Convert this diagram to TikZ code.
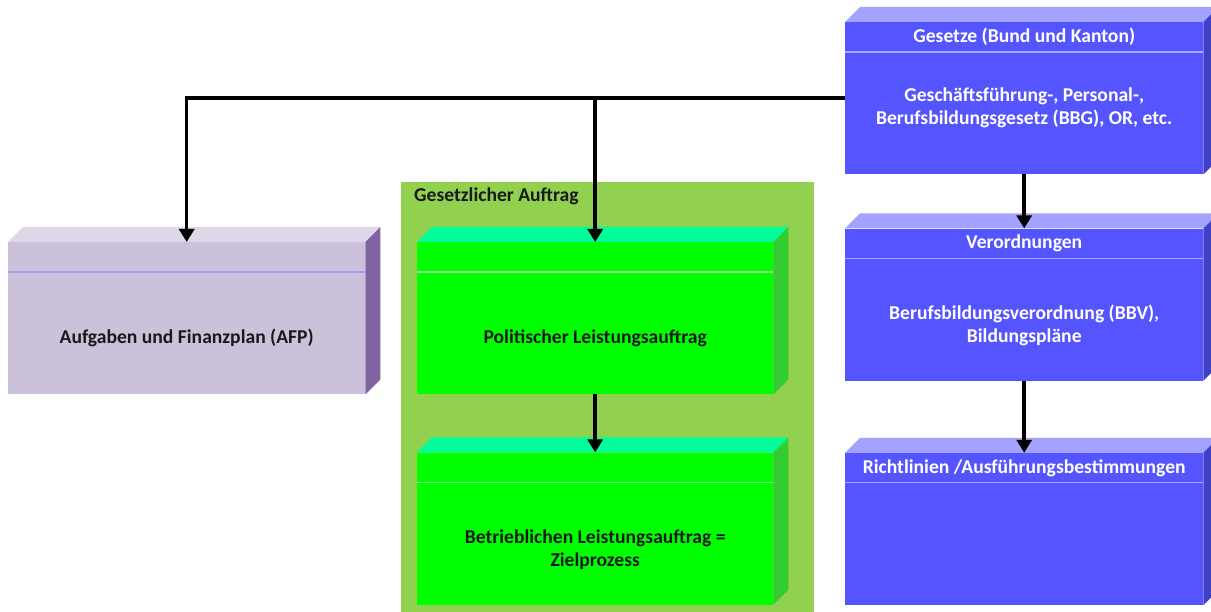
\documentclass[tikz,border=0pt]{standalone}
\usepackage{fontspec}
\setmainfont{Carlito}
\usepackage{tikz}
\usetikzlibrary{positioning}
\usetikzlibrary{arrows.meta}
\usetikzlibrary{calc}
\definecolor{blauFront}{HTML}{5555FF}
\definecolor{blauTop}{HTML}{A3A3FF}
\definecolor{blauSide}{HTML}{4040C4}
\definecolor{blauLine}{HTML}{A8A8FF}
\definecolor{gruenFront}{HTML}{00FF00}
\definecolor{gruenTop}{HTML}{00FF99}
\definecolor{gruenSide}{HTML}{33CC33}
\definecolor{gruenLine}{HTML}{8FE88F}
\definecolor{lilaFront}{HTML}{CCC1DA}
\definecolor{lilaTop}{HTML}{DDD7E7}
\definecolor{lilaSide}{HTML}{8064A2}
\definecolor{lilaLine}{HTML}{9E9EF5}
\definecolor{auftragGruen}{HTML}{92D050}
\tikzset{box node/.style={rectangle,inner sep=0pt,anchor=north west,minimum height=152pt,minimum width=357pt},
  blau node/.style={box node,fill=blauFront,minimum width=358pt},
  gruen node/.style={box node,fill=gruenFront,minimum width=356pt},
  lila node/.style={box node,fill=lilaFront},
  head text/.style={font=\fontsize{19.6}{23}\selectfont\bfseries,inner sep=0pt},
  body text/.style={font=\fontsize{19.6}{23}\selectfont\bfseries,align=center,inner sep=0pt},
  connector/.style={-{Triangle[length=13pt,width=15pt]},line width=3.5pt},}
\begin{document}
\begin{tikzpicture}[x=1pt,y=1pt]
    \useasboundingbox[fill=white] (0,0) rectangle (1211,611);
    % Rahmen gesetzlicher Auftrag
    \node[rectangle,fill=auftragGruen,inner sep=0pt,anchor=north west,minimum width=413pt,minimum height=430pt] (auftrag) at (401,429) {};
    \node[head text,black!90,anchor=west] (auftrag head) at ($(auftrag.north west)+(13,-14)$) {Gesetzlicher Auftrag};

    \node[lila node] (afp) at (8,369) {};
    \node[gruen node] (politisch) at (417,369) {};
    \node[gruen node] (betrieb) [below=58pt of politisch] {};
    \node[blau node] (gesetze) at (845,589) {};
    \node[blau node] (verord) [below=54pt of gesetze] {};
    \node[blau node] (richt) [below=72pt of verord] {};

    % Deckflaeche, Seite, Trennlinie
    \foreach \b/\c in {afp/lila,politisch/gruen,betrieb/gruen,gesetze/blau,verord/blau,richt/blau}{
      \fill[\c Top] (\b.north west) -- ++(15,15) -- ($(\b.north east)+(15,15)$) -- (\b.north east) -- cycle;
      \fill[\c Side] (\b.north east) -- ++(15,15) -- ($(\b.south east)+(15,15)$) -- (\b.south east) -- cycle;
      \draw[\c Line,line width=1.2pt] ($(\b.north west)+(0,-30)$) -- ($(\b.north east)+(0,-30)$);
    }

    \node[body text,black!90] (afp body) at ($(afp.center)+(0,-20)$) {Aufgaben und Finanzplan (AFP)};
    \node[body text,black!90] (politisch body) at ($(politisch.center)+(0,-20)$) {Politischer Leistungsauftrag};
    \node[body text,black!90] (betrieb body) at ($(betrieb.center)+(0,-21)$) {Betrieblichen Leistungsauftrag =\\Zielprozess};
    \node[head text,white] (gesetze head) at ($(gesetze.north)+(0,-15)$) {Gesetze (Bund und Kanton)};
    \node[body text,white] (gesetze body) at ($(gesetze.center)+(0,-10)$) {Geschäftsführung-, Personal-,\\Berufsbildungsgesetz (BBG), OR, etc.};
    \node[head text,white] (verord head) at ($(verord.north)+(0,-15)$) {Verordnungen};
    \node[body text,white] (verord body) at ($(verord.center)+(0,-21)$) {Berufsbildungsverordnung (BBV),\\Bildungspläne};
    \node[head text,white] (richt head) at ($(richt.north)+(0,-15)$) {Richtlinien /Ausführungsbestimmungen};

    \path[draw,connector]
    (gesetze) edge (verord)
    (verord) edge (richt)
    (politisch) edge (betrieb);
    \draw[connector] (gesetze.west) -| (afp.north);
    \draw[connector] (gesetze.west -| politisch.north) -- (politisch.north);
\end{tikzpicture}
\end{document}
